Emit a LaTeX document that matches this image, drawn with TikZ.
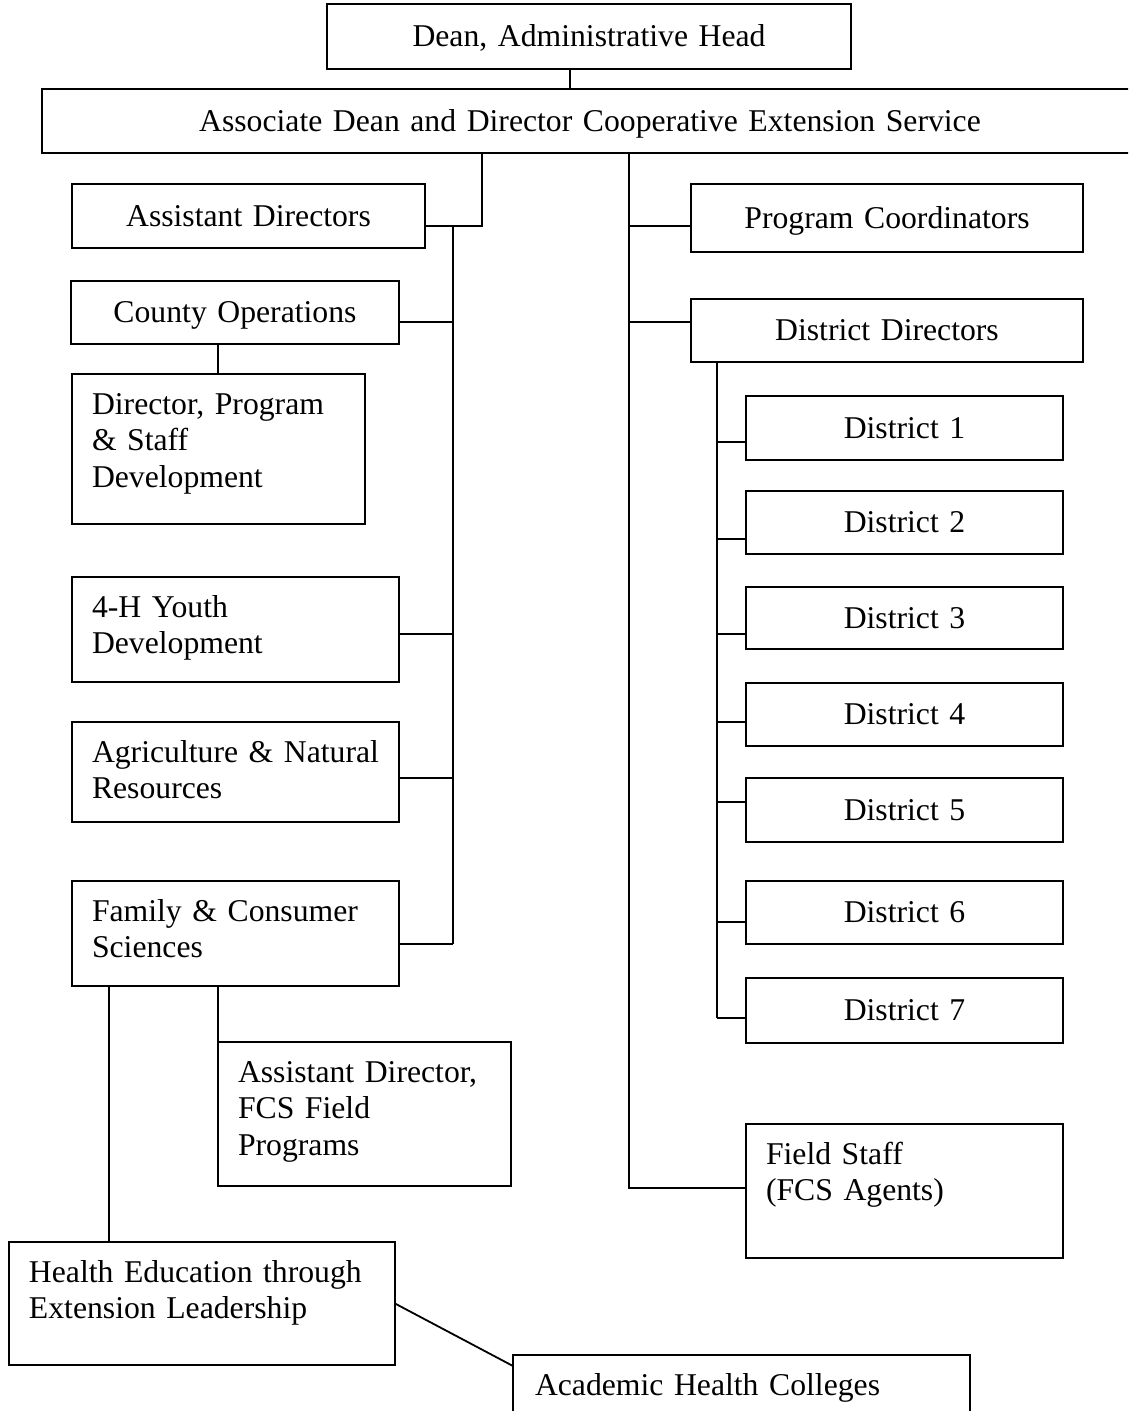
\documentclass[tikz,border=0pt]{standalone}
\usepackage{fontspec}
\setmainfont{Liberation Serif}
\usetikzlibrary{calc}

% A box given by its corners (x1,y1)-(x2,y2) and the offset of the first baseline from its top
\newcommand\orgbox[8]{%
  \pgfmathsetmacro\boxtw{#5-#3}%
  \pgfmathsetmacro\boxtd{#6-#4-#7}%
  \node[#1, text width=\boxtw pt, text height=#7pt, text depth=\boxtd pt] (#2) at (#3,#4) {#8};%
}

\tikzset{
  unit/.style={draw=black, line width=1.8pt, anchor=north west, outer sep=0pt,
    inner xsep=0pt, inner ysep=0pt,
    font=\fontsize{31.7}{36.5}\selectfont},
  mid/.style={unit, align=center},
  lft/.style={unit, execute at begin node={\leftskip=20pt\rightskip=0pt plus 1fil\relax}},
  link/.style={draw=black, line width=1.8pt},
}

\begin{document}
\begin{tikzpicture}[x=1pt, y=-1pt]
  \fill[white] (0,0) rectangle (1128,1411);
  \useasboundingbox (0,0) rectangle (1128,1411);
  \clip (0,0) rectangle (1128,1411);

  % top of the chart
  \orgbox{mid}{d}{327}{4}{851}{69}{42.5}{Dean, Administrative Head}
  \orgbox{mid}{a}{42}{89}{1138}{153}{42}{Associate Dean and Director Cooperative Extension Service}

  % left branch
  \orgbox{mid}{ad}{72}{184}{425}{248}{42}{Assistant Directors}
  \orgbox{mid}{co}{71}{281}{399}{344}{41.5}{County Operations}
  \orgbox{lft}{dp}{72}{374}{365}{524}{40}{Director, Program\\\& Staff\\Development}
  \orgbox{lft}{yh}{72}{577}{399}{682}{40}{4-H Youth\\Development}
  \orgbox{lft}{ag}{72}{722}{399}{822}{40}{Agriculture \& Natural\\Resources}
  \orgbox{lft}{fc}{72}{881}{399}{986}{40}{Family \& Consumer\\Sciences}
  \orgbox{lft}{af}{218}{1042}{511}{1186}{40}{Assistant Director,\\FCS Field\\Programs}
  \orgbox{lft}{he}{9}{1242}{395}{1365}{40}{Health Education through\\Extension Leadership}
  \orgbox{lft}{ac}{513}{1355}{970}{1430}{40}{\hspace*{2pt}Academic Health Colleges}

  % right branch
  \orgbox{mid}{pc}{691}{184}{1083}{252}{44}{Program Coordinators}
  \orgbox{mid}{dd}{691}{299}{1083}{362}{41.5}{District Directors}
  \foreach \n/\t/\b in {1/396/460, 2/491/554, 3/587/649, 4/683/746, 5/778/842, 6/881/944, 7/978/1043}{
    \pgfmathsetmacro\bl{(\b-\t)/2+10}
    \orgbox{mid}{d\n}{746}{\t}{1063}{\b}{\bl}{District \n}
  }
  \orgbox{lft}{fs}{746}{1124}{1063}{1258}{40}{Field Staff\\(FCS Agents)}

  % junction points
  \coordinate (kD) at (570,0);
  \coordinate (kA) at (482,226);
  \coordinate (jAD) at (453,226);
  \coordinate (jCO) at (453,322);
  \coordinate (jYH) at (453,634);
  \coordinate (jAG) at (453,778);
  \coordinate (jFC) at (453,944);
  \coordinate (kC) at (218,0);
  \coordinate (kH) at (109,0);
  \coordinate (jPC) at (629,226);
  \coordinate (jDD) at (629,322);
  \coordinate (jFS) at (629,1188);
  \coordinate (kDD) at (717,0);

  % connectors, left side
  \draw[link] (d.south -| kD) -- (a.north -| kD);
  \draw[link] (a.south -| kA) -- (kA) -- (ad.east |- kA);
  \draw[link] (jAD) -- (jFC);
  \draw[link] (co.east |- jCO) -- (jCO);
  \draw[link] (yh.east |- jYH) -- (jYH);
  \draw[link] (ag.east |- jAG) -- (jAG);
  \draw[link] (fc.east |- jFC) -- (jFC);
  \draw[link] (co.south -| kC) -- (dp.north -| kC);
  \draw[link] (fc.south -| af.north west) -- (af.north west);
  \draw[link] (fc.south -| kH) -- (he.north -| kH);
  \draw[link] (he.east) -- ($(ac.north west)+(0,11)$);

  % connectors, right side
  \draw[link] (a.south -| jFS) -- (jFS) -- (fs.west |- jFS);
  \draw[link] (pc.west |- jPC) -- (jPC);
  \draw[link] (dd.west |- jDD) -- (jDD);
  \foreach \n/\y in {1/442, 2/539, 3/634, 4/722, 5/802, 6/922, 7/1018}{
    \coordinate (j\n) at (717,\y);
    \draw[link] (d\n.west |- j\n) -- (j\n);
  }
  \draw[link] (dd.south -| kDD) -- (j7);
\end{tikzpicture}
\end{document}
